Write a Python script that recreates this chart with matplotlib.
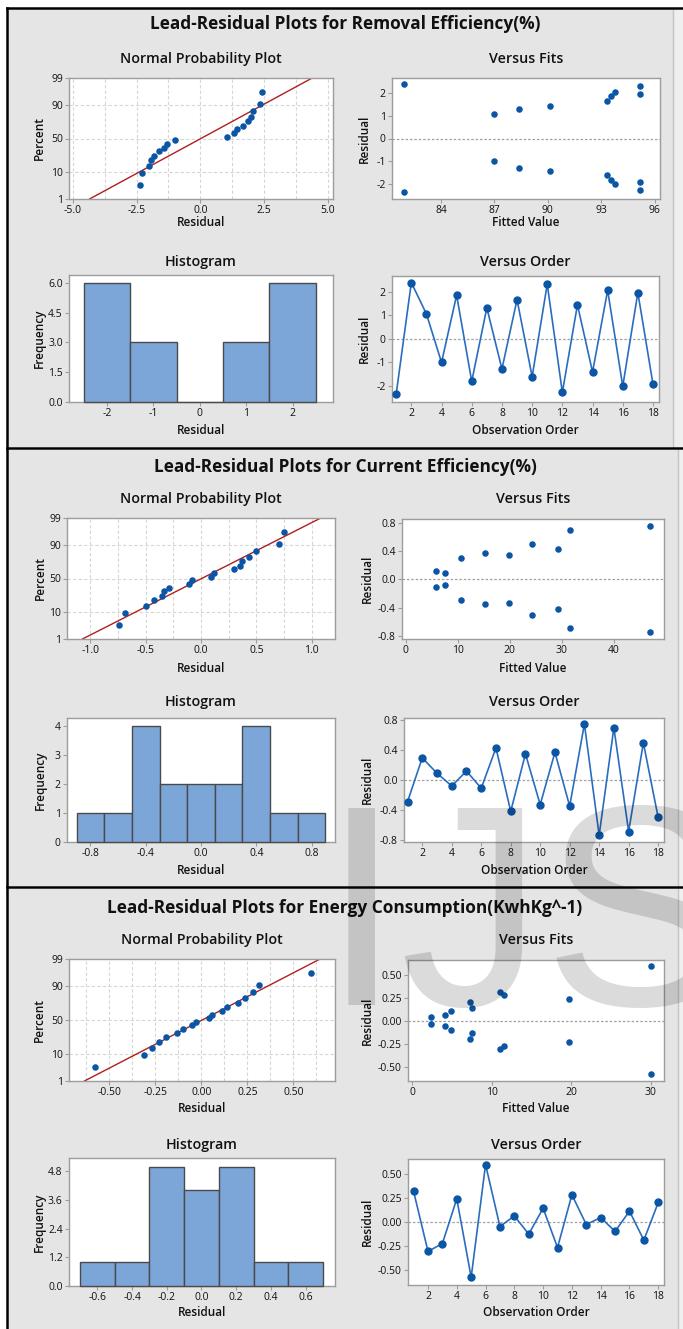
import matplotlib
matplotlib.use("Agg")
import matplotlib.pyplot as plt
from matplotlib.patches import Rectangle
from matplotlib.lines import Line2D
from matplotlib.ticker import FormatStrFormatter
import numpy as np
from statistics import NormalDist

plt.rcParams['font.family'] = ['Open Sans', 'DejaVu Sans']
plt.rcParams['axes.unicode_minus'] = False

W, H = 683, 1329

# -----------------------------
# Data
# -----------------------------
titles = [
    "Lead-Residual Plots for Removal Efficiency(%)",
    "Lead-Residual Plots for Current Efficiency(%)",
    "Lead-Residual Plots for Energy Consumption(KwhKg^-1)",
]

order = list(range(1, 19))

removal_resid = [-2.35, 2.40, 1.06, -1.01, 1.86, -1.82, 1.32, -1.29, 1.67,
                 -1.62, 2.33, -2.29, 1.45, -1.42, 2.07, -2.03, 1.97, -1.93]
removal_fits = [81.95, 81.95, 87.0, 87.0, 93.55, 93.55, 88.4, 88.4, 93.3,
                93.3, 95.2, 95.2, 90.1, 90.1, 93.75, 93.75, 95.2, 95.2]
removal_bins = [-2, -1, 0, 1, 2]
removal_counts = [6, 3, 0, 3, 6]

current_resid = [-0.29, 0.297, 0.09, -0.08, 0.12, -0.11, 0.43, -0.42, 0.35,
                 -0.33, 0.37, -0.35, 0.75, -0.74, 0.70, -0.69, 0.498, -0.498]
current_fits = [10.6, 10.6, 7.5, 7.5, 5.9, 5.9, 29.3, 29.3, 19.8,
                19.8, 15.3, 15.3, 47.1, 47.1, 31.7, 31.7, 24.4, 24.4]
current_bins = [-0.8, -0.6, -0.4, -0.2, 0.0, 0.2, 0.4, 0.6, 0.8]
current_counts = [1, 1, 4, 2, 2, 2, 4, 1, 1]

energy_resid = [0.315, -0.31, -0.228, 0.238, -0.58, 0.595, -0.051, 0.06, -0.13,
                0.14, -0.27, 0.28, -0.03, 0.043, -0.102, 0.11, -0.193, 0.20]
energy_fits = [11.07, 11.07, 19.75, 19.75, 30.0, 30.0, 4.1, 4.1, 7.55,
               7.55, 11.57, 11.57, 2.4, 2.4, 4.8, 4.8, 7.25, 7.25]
energy_bins = [-0.6, -0.4, -0.2, 0.0, 0.2, 0.4, 0.6]
energy_counts = [1, 1, 5, 4, 5, 1, 1]

pct_ticks = [1, 10, 50, 90, 99]

# -----------------------------
# Layout / style (pixels)
# -----------------------------
panels = [
    dict(resid=removal_resid, fits=removal_fits, bins=removal_bins, counts=removal_counts,
         bin_w=1.0, top=9, bottom=447, edge=673, title_y=24, sub_y=(59, 262), xl_y=(223, 430),
         npp=(69, 78, 333, 199), npp_xlim=(-5.15, 5.2), npp_xt=[-5, -2.5, 0, 2.5, 5], npp_fmt='%.1f', npp_grid=1.25,
         fit=(392, 78, 660, 199), fit_xlim=(81.25, 96.3), fit_xt=[84, 87, 90, 93, 96], fit_ylim=(-2.67, 2.67),
         rt=[-2, -1, 0, 1, 2], rfmt='%d',
         hist=(69, 275, 333, 402), h_xlim=(-2.82, 2.87), h_ylim=(0, 6.4), h_xt=[-2, -1, 0, 1, 2], h_xfmt='%d',
         h_yt=[0, 1.5, 3, 4.5, 6], h_yfmt='%.1f',
         ordr=(392, 276, 659, 402), o_xlim=(0.72, 18.4), o_ylim=(-2.7, 2.68),
         ylab_x=(39, 364)),
    dict(resid=current_resid, fits=current_fits, bins=current_bins, counts=current_counts,
         bin_w=0.2, top=450, bottom=886, edge=678, title_y=467, sub_y=(499, 702), xl_y=(668, 870),
         npp=(67, 518, 335, 639), npp_xlim=(-1.21, 1.21), npp_xt=[-1, -0.5, 0, 0.5, 1], npp_fmt='%.1f', npp_grid=0.25,
         fit=(402, 519, 664, 639), fit_xlim=(-0.7, 49.7), fit_xt=[0, 10, 20, 30, 40], fit_ylim=(-0.84, 0.85),
         rt=[-0.8, -0.4, 0, 0.4, 0.8], rfmt='%.1f',
         hist=(67, 718, 335, 842), h_xlim=(-0.97, 0.97), h_ylim=(0, 4.29), h_xt=[-0.8, -0.4, 0, 0.4, 0.8], h_xfmt='%.1f',
         h_yt=[0, 1, 2, 3, 4], h_yfmt='%d',
         ordr=(404, 718, 664, 842), o_xlim=(0.76, 18.4), o_ylim=(-0.83, 0.83),
         ylab_x=(40, 367)),
    dict(resid=energy_resid, fits=energy_fits, bins=energy_bins, counts=energy_counts,
         bin_w=0.2, top=889, bottom=1329, edge=678, title_y=908, sub_y=(940, 1145), xl_y=(1109, 1313),
         npp=(69, 959, 335, 1081), npp_xlim=(-0.72, 0.727), npp_xt=[-0.5, -0.25, 0, 0.25, 0.5], npp_fmt='%.2f', npp_grid=0.125,
         fit=(408, 960, 664, 1081), fit_xlim=(-0.55, 31.65), fit_xt=[0, 10, 20, 30], fit_ylim=(-0.652, 0.66),
         rt=[-0.5, -0.25, 0, 0.25, 0.5], rfmt='%.2f',
         hist=(69, 1158, 335, 1286), h_xlim=(-0.764, 0.77), h_ylim=(0, 5.36), h_xt=[-0.6, -0.4, -0.2, 0, 0.2, 0.4, 0.6],
         h_xfmt='%.1f', h_yt=[0, 1.2, 2.4, 3.6, 4.8], h_yfmt='%.1f',
         ordr=(408, 1159, 664, 1285), o_xlim=(0.61, 18.4), o_ylim=(-0.66, 0.653),
         ylab_x=(39, 367)),
]

BG = '#e5e5e5'
FRAME = '#9d9d9d'
DOT = '#0b55a5'
LINE = '#2a6dbf'
BAR = '#7ca6d8'
TXT = '#111111'

fig = plt.figure(figsize=(W / 100, H / 100), dpi=100)
fig.patch.set_facecolor('white')


def fx(px):
    return px / W


def fy(py):
    return 1 - py / H


def add_ax(box):
    l, t, r, b = box
    ax = fig.add_axes([fx(l), fy(b), (r - l) / W, (b - t) / H])
    ax.set_facecolor('white')
    for s in ax.spines.values():
        s.set_color(FRAME)
        s.set_linewidth(1.0)
    ax.tick_params(direction='out', length=3, width=0.8, color=FRAME,
                   labelsize=7.5, labelcolor=TXT, pad=1.5)
    return ax


def label_ax(ax, box, xlab, ylab, xl_y, yl_x, sub, sub_y):
    l, t, r, b = box
    fig.text(fx((l + r) / 2), fy(sub_y), sub, ha='center', va='center',
             fontsize=10.3, fontweight='semibold', color=TXT)
    fig.text(fx((l + r) / 2), fy(xl_y), xlab, ha='center', va='center',
             fontsize=8.5, fontweight='semibold', color=TXT)
    fig.text(fx(yl_x), fy((t + b) / 2), ylab, ha='center', va='center', rotation=90,
             fontsize=8.5, fontweight='semibold', color=TXT)


nd = NormalDist()

for k, p in enumerate(panels):
    # panel background (Minitab graph window, slightly lighter strip past its right edge)
    h = (p['bottom'] - p['top']) / H
    fig.patches.append(Rectangle((fx(8), fy(p['bottom'])), (p['edge'] - 8) / W, h,
                                 transform=fig.transFigure, facecolor=BG, edgecolor='none', zorder=-10))
    fig.patches.append(Rectangle((fx(p['edge']), fy(p['bottom'])), (W - p['edge']) / W, h,
                                 transform=fig.transFigure, facecolor='#efefef', edgecolor='none', zorder=-10))
    fig.lines.append(Line2D([fx(p['edge']), fx(p['edge'])], [fy(p['top']), fy(p['bottom'])],
                            transform=fig.transFigure, color='#c4c4c4', lw=1.0, zorder=-9))
    fig.text(fx(345), fy(p['title_y']), titles[k], ha='center', va='center',
             fontsize=12.4, fontweight='bold', color=TXT)

    resid = np.array(p['resid'])

    # Normal probability plot
    ax = add_ax(p['npp'])
    r = np.sort(resid)
    n = len(r)
    z = [nd.inv_cdf((i - 0.3) / (n + 0.4)) for i in range(1, n + 1)]
    zl = np.array([nd.inv_cdf(0.01), nd.inv_cdf(0.99)])
    g = p['npp_grid']
    for gx in np.arange(-8, 8.001, 1) * g:
        ax.axvline(gx, color='#d6d6d6', lw=0.8, ls=(0, (3, 2)), zorder=0)
    for q in pct_ticks[1:-1]:
        ax.axhline(nd.inv_cdf(q / 100), color='#d6d6d6', lw=0.8, ls=(0, (3, 2)), zorder=0)
    mu, sd = resid.mean(), resid.std(ddof=1)
    ax.plot(mu + sd * zl, zl, color='#b01e1e', lw=1.0, zorder=2)
    ax.scatter(r, z, s=22, color=DOT, zorder=3, linewidths=0)
    ax.set_xlim(p['npp_xlim'])
    ax.set_ylim(zl)
    ax.set_xticks(p['npp_xt'])
    ax.xaxis.set_major_formatter(FormatStrFormatter(p['npp_fmt']))
    ax.set_yticks([nd.inv_cdf(q / 100) for q in pct_ticks])
    ax.set_yticklabels([str(q) for q in pct_ticks])
    label_ax(ax, p['npp'], 'Residual', 'Percent', p['xl_y'][0], p['ylab_x'][0],
             'Normal Probability Plot', p['sub_y'][0])

    # Versus fits
    ax = add_ax(p['fit'])
    ax.axhline(0, color='#a0a0a0', lw=0.9, ls=(0, (2, 1.5)), zorder=1)
    ax.scatter(p['fits'], resid, s=22, color=DOT, zorder=3, linewidths=0)
    ax.set_xlim(p['fit_xlim'])
    ax.set_ylim(p['fit_ylim'])
    ax.set_xticks(p['fit_xt'])
    ax.set_yticks(p['rt'])
    ax.yaxis.set_major_formatter(FormatStrFormatter(p['rfmt']))
    label_ax(ax, p['fit'], 'Fitted Value', 'Residual', p['xl_y'][0], p['ylab_x'][1],
             'Versus Fits', p['sub_y'][0])

    # Histogram
    ax = add_ax(p['hist'])
    bars = ax.bar(p['bins'], p['counts'], width=p['bin_w'], color=BAR, edgecolor='#4a4a4a',
                  linewidth=1.0, zorder=3)
    for b in bars:
        b.set_clip_on(False)
    ax.set_xlim(p['h_xlim'])
    ax.set_ylim(p['h_ylim'])
    ax.set_xticks(p['h_xt'])
    ax.xaxis.set_major_formatter(FormatStrFormatter(p['h_xfmt']))
    ax.set_yticks(p['h_yt'])
    ax.yaxis.set_major_formatter(FormatStrFormatter(p['h_yfmt']))
    label_ax(ax, p['hist'], 'Residual', 'Frequency', p['xl_y'][1], p['ylab_x'][0],
             'Histogram', p['sub_y'][1])

    # Versus order
    ax = add_ax(p['ordr'])
    ax.axhline(0, color='#a0a0a0', lw=0.9, ls=(0, (2, 1.5)), zorder=1)
    ax.plot(order, resid, color=LINE, lw=1.2, marker='o', ms=5, mfc=DOT, mec=DOT, zorder=3)
    ax.set_xlim(p['o_xlim'])
    ax.set_ylim(p['o_ylim'])
    ax.set_xticks(list(range(2, 19, 2)))
    ax.set_yticks(p['rt'])
    ax.yaxis.set_major_formatter(FormatStrFormatter(p['rfmt']))
    label_ax(ax, p['ordr'], 'Observation Order', 'Residual', p['xl_y'][1], p['ylab_x'][1],
             'Versus Order', p['sub_y'][1])

# black frame lines between the three graphs
for seg in [((7, 7), (8, H)), ((7, W), (8, 8)), ((7, W), (448, 448)), ((7, W), (887, 887))]:
    fig.lines.append(Line2D([fx(seg[0][0]), fx(seg[0][1])], [fy(seg[1][0]), fy(seg[1][1])],
                            transform=fig.transFigure, color='black', lw=1.8))

# faint watermark
fig.text(fx(322), fy(1005), 'IJS', fontsize=206, color='black', alpha=0.14,
         ha='left', va='baseline', family='Liberation Sans', zorder=20)

fig.savefig('out.png', dpi=100, facecolor=fig.get_facecolor())
